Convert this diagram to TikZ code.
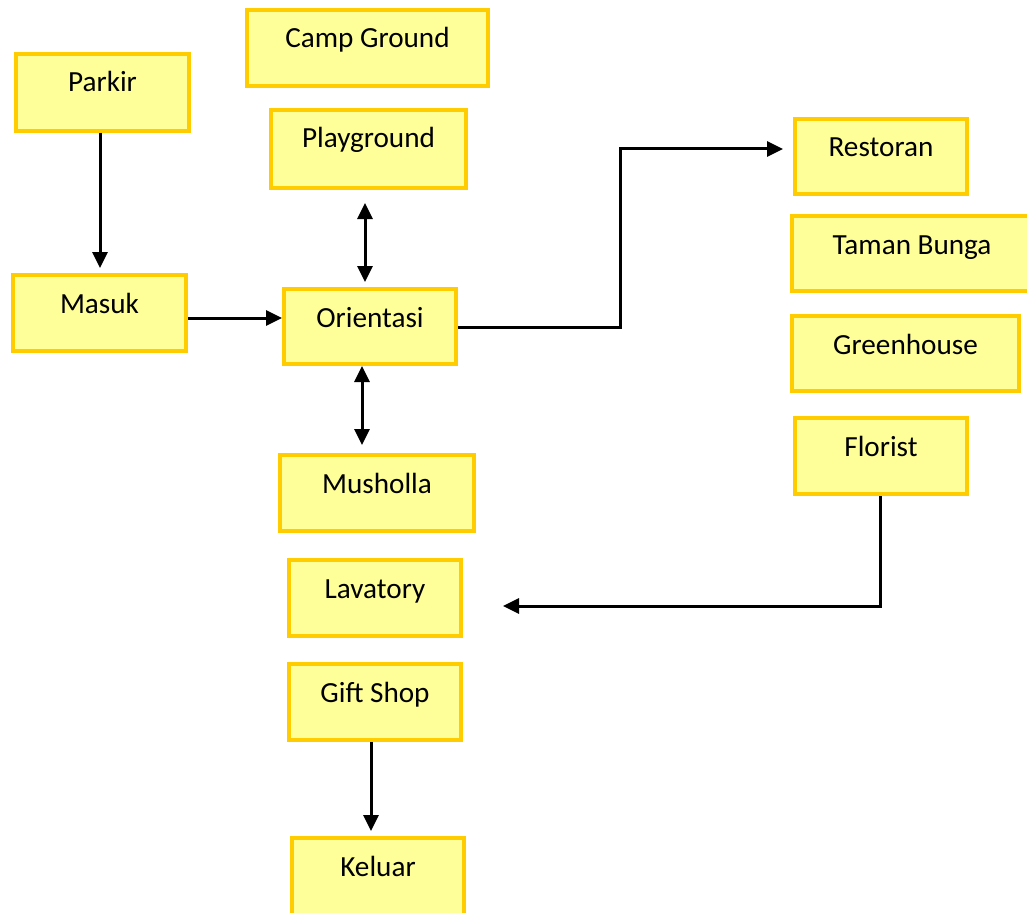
\documentclass[tikz,border=0pt]{standalone}
\usepackage{fontspec}
\setmainfont{Carlito}
\usetikzlibrary{arrows.meta}
\definecolor{boxfill}{HTML}{FFFF99}
\definecolor{boxline}{HTML}{FFCC00}
\begin{document}
\begin{tikzpicture}[x=1pt,y=-1pt,
  spot/.style 2 args={draw=boxline, line width=4pt, fill=boxfill,
    inner sep=0pt, outer sep=2pt, font=\fontsize{29.2}{35}\selectfont,
    text height=38pt, minimum width=#1, text depth=#2},
  arr/.style={draw=black, line width=3pt,
    -{Triangle[length=16pt,width=15pt]}},
  biarr/.style={draw=black, line width=3pt,
    {Triangle[length=16pt,width=15pt]}-{Triangle[length=16pt,width=15pt]}}]
\useasboundingbox (0,0) rectangle (1027,912);

% left column
\node[spot={173pt}{39pt}] (parkir) at (102.5,92.5) {Parkir};
\node[spot={173pt}{38pt}] (masuk) at (99.5,313) {Masuk};

% middle column
\node[spot={241pt}{38pt}] (camp) at (367.5,48) {Camp Ground};
\node[spot={195pt}{40pt}] (play) at (368.5,149) {Playground};
\node[spot={172pt}{37pt}] (orient) at (370,326.5) {Orientasi};
\node[spot={194pt}{38pt}] (mushola) at (377,493) {Musholla};
\node[spot={172pt}{38pt}] (lav) at (375,598) {Lavatory};
\node[spot={172pt}{38pt}] (gift) at (375,702) {Gift Shop};
\node[spot={172pt}{50pt}] (keluar) at (378,882) {Keluar};

% right column
\node[spot={172pt}{37pt}] (resto) at (881,156.5) {Restoran};
\node[spot={240pt}{37pt}] (taman) at (912,253.5) {Taman Bunga};
\node[spot={227pt}{37pt}] (green) at (905.5,353.5) {Greenhouse};
\node[spot={172pt}{38pt}] (florist) at (881,456) {Florist};

% route points
\coordinate (bendR) at (620,149);
\coordinate (back) at (503,606);

% connectors
\draw[arr] ([xshift=-2.5pt]parkir.south) -- ([xshift=0.5pt,yshift=5pt]masuk.north);
\draw[arr] ([yshift=-5pt]masuk.east) -- ([yshift=8.5pt]orient.west);
\draw[biarr] ([xshift=-3.5pt,yshift=-13pt]play.south) -- ([xshift=-5pt,yshift=5pt]orient.north);
\draw[biarr] ([xshift=-8pt]orient.south) -- ([xshift=-15pt,yshift=8pt]mushola.north);
\draw[arr] ([yshift=-0.5pt]orient.east) -| (bendR) -- ([xshift=-10pt,yshift=7.5pt]resto.west);
\draw[arr] ([xshift=-1pt]florist.south) |- (back);
\draw[arr] ([xshift=-4pt]gift.south) -- ([xshift=-7pt,yshift=5pt]keluar.north);
\end{tikzpicture}
\end{document}
